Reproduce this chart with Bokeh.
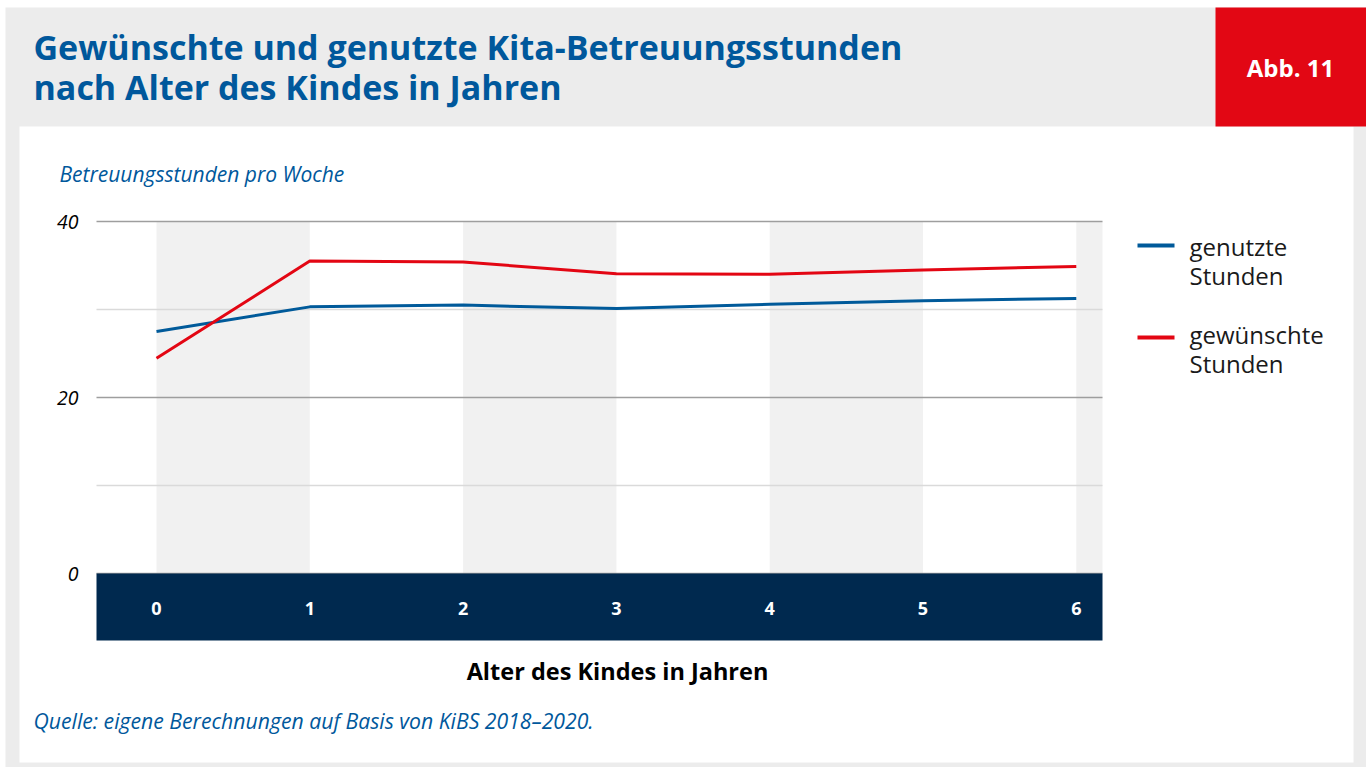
from bokeh.plotting import figure
from bokeh.models import Range1d, LinearAxis, FixedTicker, Label, ColumnDataSource
from bokeh.embed import file_html
from bokeh.resources import INLINE

# ---------------- data ----------------
ages = [0, 1, 2, 3, 4, 5, 6]
age_labels = ["0", "1", "2", "3", "4", "5", "6"]
genutzte = [27.5, 30.3, 30.5, 30.1, 30.6, 31.0, 31.25]
gewuenschte = [24.45, 35.5, 35.4, 34.05, 34.0, 34.5, 34.9]
y_label_ticks = [0, 20, 40]
grid_dark = [0, 20, 40]
grid_light = [10, 30]
series_names = ["genutzte", "gewünschte"]

title_lines = ["Gewünschte und genutzte Kita-Betreuungsstunden",
               "nach Alter des Kindes in Jahren"]
badge = "Abb. 11"
y_title = "Betreuungsstunden pro Woche"
x_title = "Alter des Kindes in Jahren"
source_text = "Quelle: eigene Berechnungen auf Basis von KiBS 2018\u20132020."

# ---------------- layout ----------------
W, H = 1366, 767
UX, X0PX = 153.3, 156.0   # pixels per year, pixel of age 0
UY, Y0PX = 8.8, 573.0     # pixels per hour, pixel of 0 h

def dx(px):
    return (px - X0PX) / UX

def dy(py):
    return (Y0PX - py) / UY

FONT = "Open Sans"
BLUE = "#00589c"
RED = "#e30613"
NAVY = "#00294f"
LINEBLUE = "#005a9a"

p = figure(width=W, height=H, output_backend="svg", toolbar_location=None, tools="",
           x_range=Range1d(dx(0), dx(W)), y_range=Range1d(dy(H), dy(0)),
           x_axis_type=None, y_axis_type=None, min_border=0,
           min_border_left=0, min_border_right=0, min_border_top=0, min_border_bottom=0)
p.outline_line_color = None
p.background_fill_color = "white"
p.border_fill_color = "white"
p.xgrid.visible = False
p.ygrid.visible = False

xl, xr = dx(96), dx(1102)   # plot area edges

# grey page, white panel and red badge
p.quad(left=dx(5), right=dx(W + 5), bottom=dy(H + 5), top=dy(7), fill_color="#ececec", line_color=None)
p.quad(left=dx(19), right=dx(1353), bottom=dy(762), top=dy(126), fill_color="white", line_color=None)
p.quad(left=dx(1215), right=dx(W + 5), bottom=dy(126), top=dy(7), fill_color="#e20714", line_color=None)

# alternating column bands
band_left = [a for a in ages[::2]]
band_right = [min(a + 1, xr) for a in ages[::2]]
p.quad(left=band_left, right=band_right, bottom=0, top=max(y_label_ticks),
       fill_color="#f1f1f1", line_color=None)

# grid lines
p.segment(x0=xl, x1=xr, y0=grid_light, y1=grid_light, line_color="#dadada", line_width=1.5)
p.segment(x0=xl, x1=xr, y0=grid_dark, y1=grid_dark, line_color="#9e9e9e", line_width=1.5)

# navy axis band
p.quad(left=xl, right=xr, bottom=dy(640), top=0, fill_color=NAVY, line_color=None)

# series
src = ColumnDataSource(dict(x=ages, g=genutzte, w=gewuenschte))
p.line("x", "g", source=src, line_color=LINEBLUE, line_width=3)
p.line("x", "w", source=src, line_color=RED, line_width=3)

# axes
yax = LinearAxis(fixed_location=xl, ticker=FixedTicker(ticks=y_label_ticks))
yax.axis_line_color = None
yax.major_tick_line_color = None
yax.minor_tick_line_color = None
yax.major_label_standoff = 12
yax.major_label_text_font = FONT
yax.major_label_text_font_style = "italic"
yax.major_label_text_font_size = "19.5px"
yax.major_label_text_color = "black"
p.add_layout(yax, "left")

xax = LinearAxis(fixed_location=0, ticker=FixedTicker(ticks=ages))
xax.major_label_overrides = {a: l for a, l in zip(ages, age_labels)}
xax.axis_line_color = None
xax.major_tick_line_color = None
xax.minor_tick_line_color = None
xax.major_label_standoff = 22
xax.major_label_text_font = FONT
xax.major_label_text_font_style = "bold"
xax.major_label_text_font_size = "18px"
xax.major_label_text_color = "white"
p.add_layout(xax, "below")

# texts
def lab(px, py, text, size, color, style="normal", align="left", baseline="alphabetic"):
    p.add_layout(Label(x=dx(px), y=dy(py), text=text, text_font=FONT, text_font_size=size,
                       text_color=color, text_font_style=style, text_align=align,
                       text_baseline=baseline))

lab(33, 46, title_lines[0], "34px", BLUE, "bold")
lab(33, 86, title_lines[1], "34px", BLUE, "bold")
lab(1290, 67, badge, "24px", "white", "bold", align="center")
lab(59, 173, y_title, "21px", BLUE, "italic")
lab(617, 670, x_title, "23.5px", "black", "bold", align="center")
lab(33, 720, source_text, "21.2px", BLUE, "italic")

# legend
p.segment(x0=dx(1137), x1=dx(1174), y0=[dy(245), dy(337)], y1=[dy(245), dy(337)],
          line_color=[LINEBLUE, RED], line_width=4)
lab(1189, 246, series_names[0], "24px", "#1a1a1a")
lab(1189, 275, "Stunden", "24px", "#1a1a1a")
lab(1189, 334, series_names[1], "24px", "#1a1a1a")
lab(1189, 363, "Stunden", "24px", "#1a1a1a")

open("out.html", "w").write(file_html(p, INLINE))
